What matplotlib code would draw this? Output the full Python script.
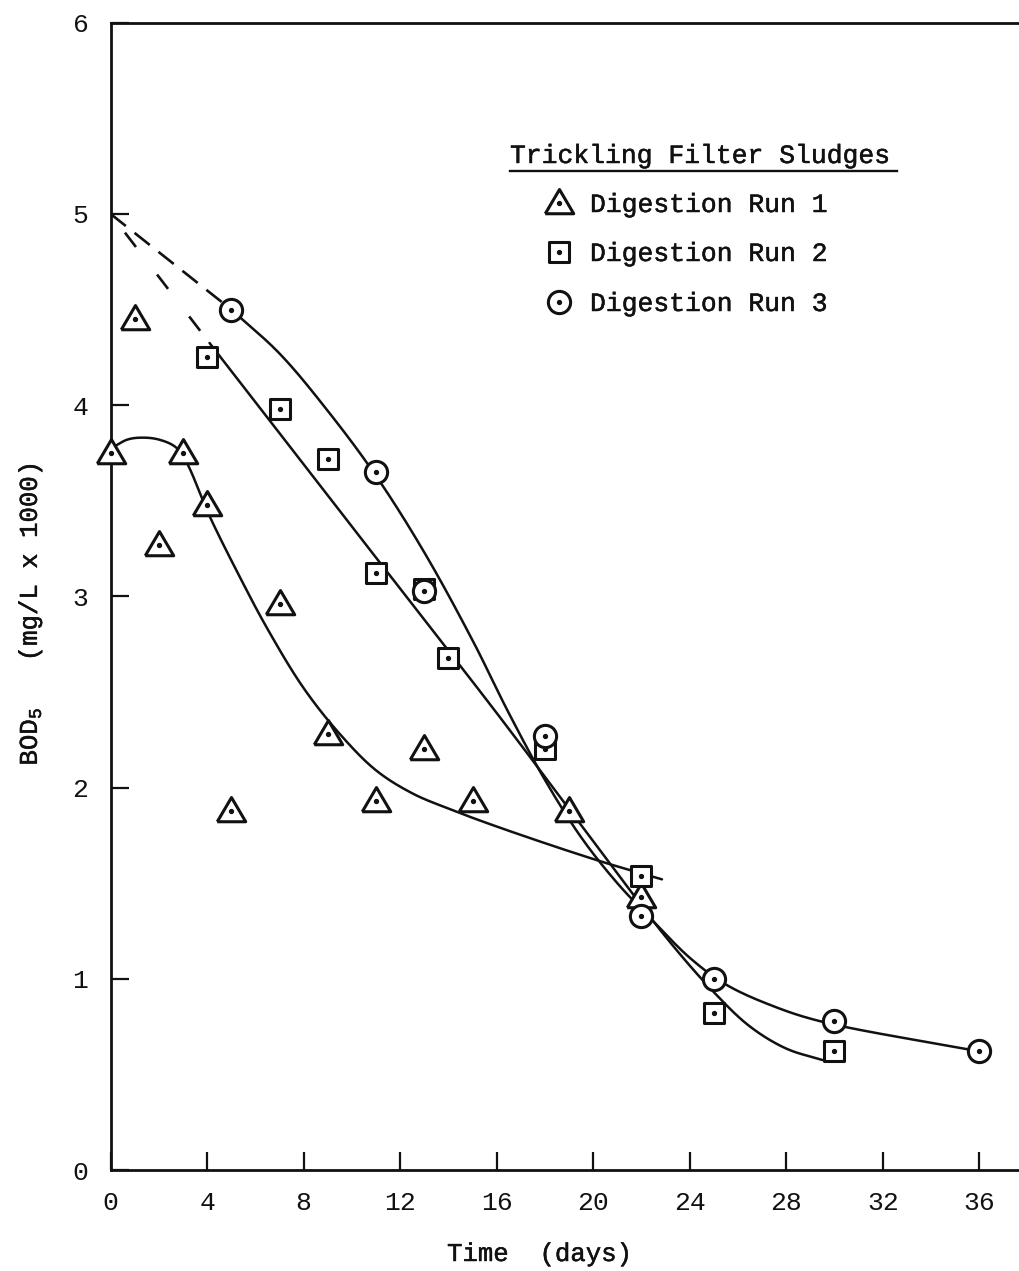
import numpy as np
import matplotlib
matplotlib.use("Agg")
import matplotlib.pyplot as plt
import matplotlib.patheffects as pe
from matplotlib.markers import MarkerStyle
from matplotlib.lines import Line2D

# ---- measured BOD5 values (mg/L x 1000) ----
run1_days = [0, 1, 2, 3, 4, 5, 7, 9, 11, 13, 15, 19, 22]
run1_bod = [3.75, 4.45, 3.27, 3.75, 3.48, 1.88, 2.96, 2.28, 1.93, 2.20, 1.93, 1.88, 1.43]

run2_days = [4, 7, 9, 11, 13, 14, 18, 22, 25, 30]
run2_bod = [4.25, 3.98, 3.72, 3.12, 3.04, 2.68, 2.20, 1.54, 0.82, 0.62]

run3_days = [5, 11, 13, 18, 22, 25, 30, 36]
run3_bod = [4.50, 3.65, 3.03, 2.27, 1.33, 1.00, 0.78, 0.62]

# ---- hand-fitted trend curves (knots along each curve) ----
fit1_x = [0.1, 0.7, 1.3, 2.0, 2.7, 3.15, 4.1, 5.36, 6.5, 8.0, 9.5, 11.0, 12.5, 14.0, 16.14, 20.16, 22.85]
fit1_y = [3.78, 3.82, 3.83, 3.82, 3.78, 3.70, 3.42, 3.10, 2.83, 2.52, 2.28, 2.09, 1.97, 1.89, 1.79, 1.62, 1.52]

fit2_x = [4.1, 8.0, 12.0, 16.0, 20.0, 23.0, 25.0, 26.5, 28.0, 29.5]
fit2_y = [4.325, 3.69, 3.04, 2.39, 1.72, 1.22, 0.93, 0.75, 0.635, 0.575]

fit3_x = [5.0, 7.0, 9.0, 11.0, 13.0, 15.0, 16.5, 18.0, 19.5, 21.0, 22.5, 24.0, 25.5, 27.5, 29.5, 36.0]
fit3_y = [4.50, 4.27, 3.97, 3.63, 3.23, 2.77, 2.39, 2.04, 1.74, 1.50, 1.30, 1.11, 0.97, 0.855, 0.775, 0.62]

# extrapolations back to day 0 (dashed)
extrap2_x = [0.0, 4.1]
extrap2_y = [5.0, 4.325]
extrap3_x = [0.0, 5.0]
extrap3_y = [5.0, 4.50]

x_ticks = [0, 4, 8, 12, 16, 20, 24, 28, 32, 36]
y_ticks = [0, 1, 2, 3, 4, 5, 6]

legend_title = "Trickling Filter Sludges"
legend_labels = ["Digestion Run 1", "Digestion Run 2", "Digestion Run 3"]


def catmull_rom(xs, ys, n=40, sy=8.0):
    """Centripetal Catmull-Rom curve through the knots (y scaled for even spacing)."""
    P = np.column_stack([np.asarray(xs, float), np.asarray(ys, float) * sy])
    P = np.vstack([2 * P[0] - P[1], P, 2 * P[-1] - P[-2]])
    pieces = []
    for i in range(1, len(P) - 2):
        p0, p1, p2, p3 = P[i - 1], P[i], P[i + 1], P[i + 2]
        t0 = 0.0
        t1 = t0 + np.linalg.norm(p1 - p0) ** 0.5
        t2 = t1 + np.linalg.norm(p2 - p1) ** 0.5
        t3 = t2 + np.linalg.norm(p3 - p2) ** 0.5
        t = np.linspace(t1, t2, n)[:, None]
        a1 = (t1 - t) / (t1 - t0) * p0 + (t - t0) / (t1 - t0) * p1
        a2 = (t2 - t) / (t2 - t1) * p1 + (t - t1) / (t2 - t1) * p2
        a3 = (t3 - t) / (t3 - t2) * p2 + (t - t2) / (t3 - t2) * p3
        b1 = (t2 - t) / (t2 - t0) * a1 + (t - t0) / (t2 - t0) * a2
        b2 = (t3 - t) / (t3 - t1) * a2 + (t - t1) / (t3 - t1) * a3
        c = (t2 - t) / (t2 - t1) * b1 + (t - t1) / (t2 - t1) * b2
        pieces.append(c if i == 1 else c[1:])
    out = np.vstack(pieces)
    return out[:, 0], out[:, 1] / sy


plt.rcParams["font.family"] = ["Liberation Mono", "DejaVu Sans Mono"]
plt.rcParams["mathtext.fontset"] = "custom"
plt.rcParams["mathtext.rm"] = "Liberation Mono"
plt.rcParams["mathtext.it"] = "Liberation Mono"
plt.rcParams["lines.scale_dashes"] = False
plt.rcParams["xtick.direction"] = "in"
plt.rcParams["ytick.direction"] = "in"
plt.rcParams["xtick.major.size"] = 13
plt.rcParams["ytick.major.size"] = 13
plt.rcParams["xtick.major.width"] = 1.6
plt.rcParams["ytick.major.width"] = 1.6
plt.rcParams["xtick.major.pad"] = 15
plt.rcParams["ytick.major.pad"] = 16
plt.rcParams["xtick.labelsize"] = 19
plt.rcParams["ytick.labelsize"] = 19

ink = "#111111"
ink_stroke = [pe.withStroke(linewidth=0.35, foreground=ink)]

W, H = 1020, 1271
fig = plt.figure(figsize=(W / 100, H / 100), dpi=100)
x0_px, y0_px, ytop_px = 110.6, 1170.0, 22.7
ax = fig.add_axes([x0_px / W, 1 - y0_px / H, 1 - x0_px / W, (y0_px - ytop_px) / H])

xmax = (W - x0_px) / 24.13
ax.set_xlim(0, xmax)
ax.set_ylim(0, 6)

lw_curve = 1.8

# trend curves
for fx, fy in [(fit1_x, fit1_y), (fit2_x, fit2_y), (fit3_x, fit3_y)]:
    cx, cy = catmull_rom(fx, fy)
    ax.plot(cx, cy, color=ink, lw=lw_curve, solid_capstyle="round", zorder=2)

# dashed extrapolations to day 0
ax.plot(extrap3_x, extrap3_y, color=ink, lw=1.9, dashes=(14, 8), zorder=2)
ax.plot(extrap2_x, extrap2_y, color=ink, lw=1.9, dashes=(0, 17, 13, 8), zorder=2)

# markers
tri = MarkerStyle(np.array([[-1.0, -0.72], [1.0, -0.72], [0.0, 0.98], [-1.0, -0.72]]), joinstyle="round")
sq = MarkerStyle("s", joinstyle="round")
circ = MarkerStyle("o")

marker_specs = [
    (run1_days, run1_bod, tri, 20.5, 3),
    (run2_days, run2_bod, sq, 15, 4),
    (run3_days, run3_bod, circ, 16, 5),
]
for xs, ys, mk, ms, z in marker_specs:
    ax.plot(xs, ys, linestyle="none", marker=mk, markersize=ms, clip_on=False,
            markerfacecolor="white", markeredgecolor=ink, markeredgewidth=2.2, zorder=z)
    ax.plot(xs, ys, linestyle="none", marker="o", markersize=2.8, clip_on=False,
            markerfacecolor=ink, markeredgecolor=ink, zorder=z + 0.5)

# axes styling
for side in ("left", "bottom", "top"):
    ax.spines[side].set_linewidth(2.0)
    ax.spines[side].set_color(ink)
ax.spines["right"].set_visible(False)

ax.set_xticks(x_ticks)
ax.set_yticks(y_ticks)
ax.xaxis.set_ticks_position("bottom")
ax.yaxis.set_ticks_position("left")
ax.tick_params(colors=ink)

# axis titles
fig.text(540 / W, 1 - 1254 / H, "Time  (days)", ha="center", va="center",
         fontsize=18.5, color=ink, path_effects=ink_stroke)
fig.text(30 / W, 1 - 614 / H, r"BOD$_{\mathrm{5}}$   (mg/L x 1000)", ha="center", va="center",
         rotation=90, fontsize=18.5, color=ink, path_effects=ink_stroke)

# legend block
fig.text(510 / W, 1 - 163 / H, legend_title, ha="left", va="baseline", fontsize=19,
         color=ink, path_effects=ink_stroke)
fig.add_artist(Line2D([510 / W, 897 / W], [1 - 171 / H, 1 - 171 / H], color=ink, lw=1.7))

legend_rows = [(203, tri, 20.5), (252, sq, 15), (302, circ, 16)]
for (yrow, mk, ms), label in zip(legend_rows, legend_labels):
    fig.add_artist(Line2D([559 / W], [1 - yrow / H], linestyle="none", marker=mk, markersize=ms,
                          markerfacecolor="white", markeredgecolor=ink, markeredgewidth=2.2))
    fig.add_artist(Line2D([559 / W], [1 - yrow / H], linestyle="none", marker="o", markersize=2.8,
                          markerfacecolor=ink, markeredgecolor=ink))
    fig.text(590 / W, 1 - (yrow + 9) / H, label, ha="left", va="baseline", fontsize=19,
             color=ink, path_effects=ink_stroke)

fig.savefig("out.png", dpi=100, facecolor="white")
